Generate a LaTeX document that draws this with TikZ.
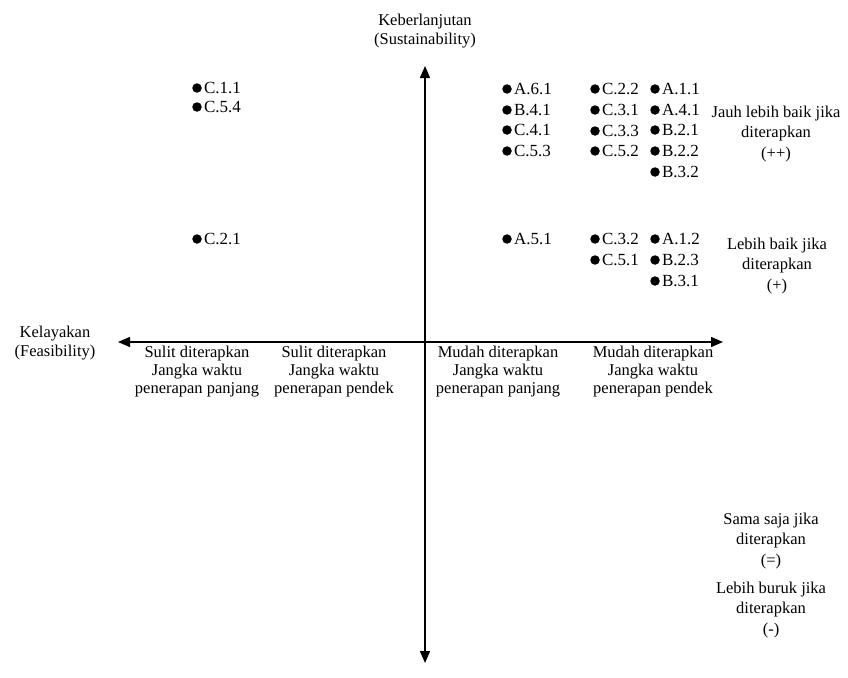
\documentclass[tikz,border=0pt]{standalone}
\usepackage{fontspec}
\setmainfont{Liberation Serif}
\usetikzlibrary{arrows.meta}
\begin{document}
\begin{tikzpicture}[x=1pt,y=-1pt,
  axis/.style={line width=1.5pt,{Triangle[length=12pt,width=10pt]}-{Triangle[length=12pt,width=10pt]}},
  dotmark/.style={circle,fill=black,inner sep=0pt,minimum size=9.5pt},
  itemlbl/.style={anchor=west,inner sep=0pt,text height=11pt,text depth=0pt,font=\fontsize{17}{18}\selectfont},
  axislbl/.style={align=center,inner sep=0pt,font=\fontsize{16.5}{19}\selectfont},
  collbl/.style={align=center,inner sep=0pt,font=\fontsize{16.5}{18}\selectfont},
  rowlbl/.style={align=center,inner sep=0pt,font=\fontsize{16.5}{20.5}\selectfont}]
\useasboundingbox (0,0) rectangle (848,677);
% axes
\coordinate (vtop) at (425,66);
\coordinate (vbot) at (425,663);
\coordinate (hleft) at (118,342);
\coordinate (hright) at (723,342);
\draw[axis] (vbot) -- (vtop);
\draw[axis] (hleft) -- (hright);
% axis titles
\node[axislbl] (ytitle) at (425,31) {Keberlanjutan\\(Sustainability)};
\node[axislbl] (xtitle) at (55,343) {Kelayakan\\(Feasibility)};
% column labels
\node[collbl] (col1) at (197,372) {Sulit diterapkan\\Jangka waktu\\penerapan panjang};
\node[collbl] (col2) at (334,372) {Sulit diterapkan\\Jangka waktu\\penerapan pendek};
\node[collbl] (col3) at (498,372) {Mudah diterapkan\\Jangka waktu\\penerapan panjang};
\node[collbl] (col4) at (653,372) {Mudah diterapkan\\Jangka waktu\\penerapan pendek};
% row labels
\node[rowlbl] (row1) at (776,134) {Jauh lebih baik jika\\diterapkan\\(++)};
\node[rowlbl] (row2) at (777,266) {Lebih baik jika\\diterapkan\\(+)};
\node[rowlbl] (row3) at (771,541) {Sama saja jika\\diterapkan\\(=)};
\node[rowlbl] (row4) at (771,610) {Lebih buruk jika\\diterapkan\\(-)};
% items
\foreach \n/\x/\y/\t in {
  c11/197/88/C.1.1, c54/197/107/C.5.4, c21/197/239/C.2.1,
  a61/507/89/A.6.1, b41/507/110/B.4.1, c41/507/130/C.4.1, c53/507/151/C.5.3, a51/507/239/A.5.1,
  c22/595/89/C.2.2, c31/595/110/C.3.1, c33/595/131/C.3.3, c52/595/151/C.5.2, c32/595/239/C.3.2, c51/595/260/C.5.1,
  a11/655/89/A.1.1, a41/655/110/A.4.1, b21/655/130/B.2.1, b22/655/151/B.2.2, b32/655/172/B.3.2,
  a12/655/239/A.1.2, b23/655/260/B.2.3, b31/655/281/B.3.1}
{
  \node[dotmark] (d\n) at (\x,\y) {};
  \node[itemlbl] (t\n) at ([xshift=2pt]d\n.east) {\t};
}
\end{tikzpicture}
\end{document}
